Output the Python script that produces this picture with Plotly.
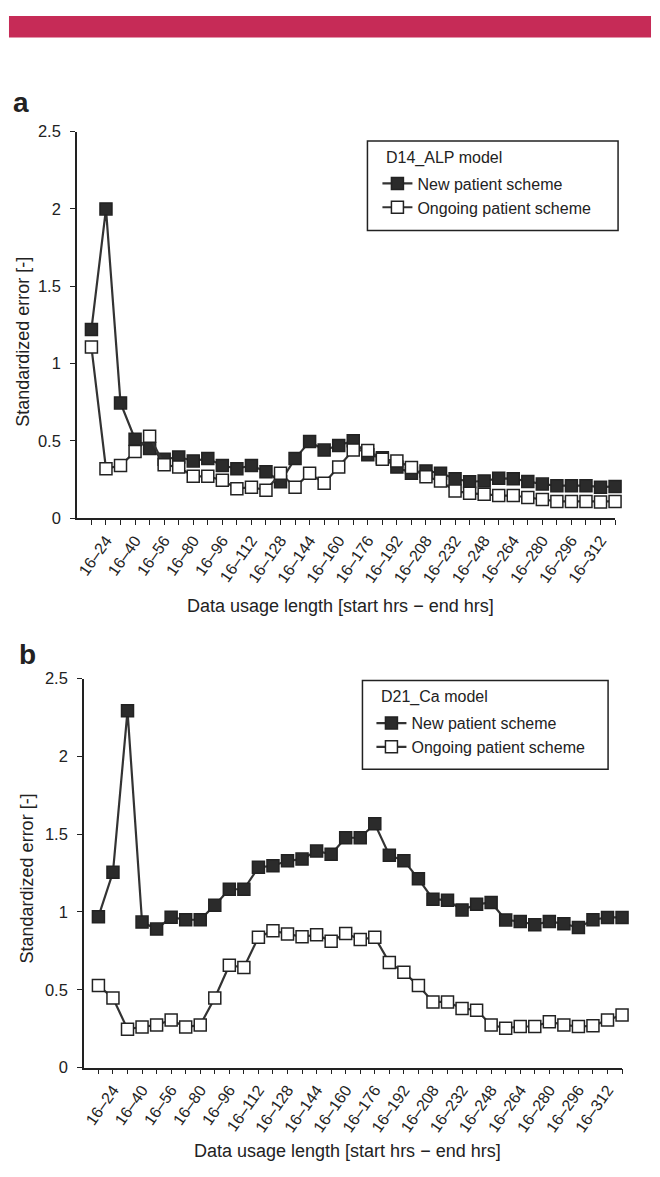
import plotly.graph_objects as go

# ---------------- data ----------------
categories = ["16–20", "16–24", "16–32", "16–40", "16–48", "16–56", "16–72", "16–80",
              "16–88", "16–96", "16–104", "16–112", "16–120", "16–128", "16–136", "16–144",
              "16–152", "16–160", "16–168", "16–176", "16–184", "16–192", "16–200", "16–208",
              "16–224", "16–232", "16–240", "16–248", "16–256", "16–264", "16–272", "16–280",
              "16–288", "16–296", "16–304", "16–312", "16–320"]
tick_labels = [c if i % 2 == 1 else "" for i, c in enumerate(categories)]

new_a = [1.22, 2.00, 0.745, 0.51, 0.45, 0.38, 0.395, 0.37, 0.385, 0.34,
         0.32, 0.34, 0.30, 0.235, 0.385, 0.495, 0.44, 0.47, 0.50, 0.41,
         0.39, 0.33, 0.29, 0.305, 0.29, 0.255, 0.235, 0.24, 0.257, 0.255,
         0.236, 0.22, 0.21, 0.21, 0.21, 0.20, 0.205]
ongoing_a = [1.106, 0.32, 0.34, 0.43, 0.53, 0.345, 0.33, 0.27, 0.27, 0.245,
             0.19, 0.20, 0.18, 0.29, 0.20, 0.29, 0.225, 0.33, 0.44, 0.437,
             0.38, 0.37, 0.327, 0.268, 0.24, 0.176, 0.16, 0.155, 0.146, 0.146,
             0.134, 0.12, 0.108, 0.108, 0.108, 0.104, 0.108]

new_b = [0.97, 1.255, 2.293, 0.935, 0.89, 0.966, 0.95, 0.95, 1.044, 1.146,
         1.146, 1.287, 1.297, 1.329, 1.34, 1.392, 1.371, 1.477, 1.477, 1.567,
         1.365, 1.33, 1.213, 1.082, 1.076, 1.013, 1.049, 1.061, 0.949, 0.939,
         0.918, 0.939, 0.924, 0.90, 0.95, 0.965, 0.965]
ongoing_b = [0.527, 0.447, 0.247, 0.26, 0.274, 0.306, 0.26, 0.274, 0.447, 0.658,
             0.643, 0.838, 0.88, 0.859, 0.84, 0.854, 0.812, 0.862, 0.823, 0.838,
             0.675, 0.612, 0.527, 0.422, 0.422, 0.38, 0.369, 0.274, 0.253, 0.264,
             0.264, 0.295, 0.274, 0.264, 0.268, 0.306, 0.338]

y_ticks = [0, 0.5, 1, 1.5, 2, 2.5]
y_tick_text = ["0", "0.5", "1", "1.5", "2", "2.5"]

series_names = ["New patient scheme", "Ongoing patient scheme"]
legend_titles = ["D14_ALP model", "D21_Ca model"]
panel_letters = ["a", "b"]
x_title = "Data usage length [start hrs − end hrs]"
y_title = "Standardized error [-]"

# ---------------- layout helpers ----------------
W, H = 660, 1177
FONT = "Liberation Sans, Arial, sans-serif"
INK = "#222222"


def px(x):
    return x / W


def py(y):
    return 1 - y / H


fig = go.Figure()

panels = [
    dict(new=new_a, ong=ongoing_a, xa="x", ya="y", legend="legend"),
    dict(new=new_b, ong=ongoing_b, xa="x2", ya="y2", legend="legend2"),
]

for p in panels:
    fig.add_trace(go.Scatter(
        x=categories, y=p["new"], xaxis=p["xa"], yaxis=p["ya"], legend=p["legend"],
        name=series_names[0], mode="lines+markers", cliponaxis=False,
        line=dict(color="#333333", width=2.2),
        marker=dict(symbol="square", size=12, color="#2b2b2b",
                    line=dict(color=INK, width=1.5)),
    ))
    fig.add_trace(go.Scatter(
        x=categories, y=p["ong"], xaxis=p["xa"], yaxis=p["ya"], legend=p["legend"],
        name=series_names[1], mode="lines+markers", cliponaxis=False,
        line=dict(color="#333333", width=2.2),
        marker=dict(symbol="square", size=12, color="white",
                    line=dict(color=INK, width=1.5)),
    ))

xcommon = dict(type="category", range=[-1, len(categories) - 1],
               tickmode="array", tickvals=categories, ticktext=tick_labels,
               tickangle=-55, ticks="outside", ticklen=5, tickwidth=1, tickcolor=INK,
               showline=True, linecolor=INK, linewidth=1.5, showgrid=False,
               zeroline=False, tickfont=dict(family=FONT, size=16, color=INK))
ycommon = dict(range=[0, 2.5], tickmode="array", tickvals=y_ticks, ticktext=y_tick_text,
               ticks="outside", ticklen=5, tickwidth=1, tickcolor=INK,
               ticklabelstandoff=6,
               showline=True, linecolor=INK, linewidth=1.5, showgrid=False,
               zeroline=False, tickfont=dict(family=FONT, size=16.5, color=INK))

legend_common = dict(bgcolor="rgba(0,0,0,0)", borderwidth=0,
                     font=dict(family=FONT, size=16, color=INK),
                     xanchor="left", yanchor="top", traceorder="normal")

fig.update_layout(
    width=W, height=H,
    margin=dict(l=0, r=0, t=0, b=0),
    paper_bgcolor="white", plot_bgcolor="white",
    font=dict(family=FONT, size=15, color=INK),
    xaxis=dict(xcommon, domain=[px(76), px(615)], anchor="y"),
    yaxis=dict(ycommon, domain=[py(517), py(124.5)], anchor="x"),
    xaxis2=dict(xcommon, domain=[px(83), px(622)], anchor="y2"),
    yaxis2=dict(ycommon, domain=[py(1075), py(680)], anchor="x2"),
    legend=dict(legend_common, x=px(377), y=py(160)),
    legend2=dict(legend_common, x=px(371), y=py(708)),
    showlegend=True,
    hovermode=False,
)

shapes = [
    # top colour band
    dict(type="rect", xref="paper", yref="paper", x0=px(8), x1=px(651), y0=py(7), y1=py(29),
         fillcolor="#c62b57", line=dict(width=0), layer="below"),
    # legend boxes
    dict(type="rect", xref="paper", yref="paper", x0=px(367), x1=px(618), y0=py(134), y1=py(225),
         fillcolor="rgba(0,0,0,0)", line=dict(color=INK, width=1.5)),
    dict(type="rect", xref="paper", yref="paper", x0=px(362), x1=px(608), y0=py(682), y1=py(772),
         fillcolor="rgba(0,0,0,0)", line=dict(color=INK, width=1.5)),
]
fig.update_layout(shapes=shapes)

ann = []
for letter, (lx, ly) in zip(panel_letters, [(10, 95), (16, 656)]):
    ann.append(dict(text=f"<b>{letter}</b>", x=px(lx), y=py(ly), xref="paper", yref="paper",
                    xanchor="left", yanchor="middle", showarrow=False,
                    font=dict(family=FONT, size=28, color=INK)))
for title, (tx, ty) in zip(legend_titles, [(384, 151), (379, 699)]):
    ann.append(dict(text=title, x=px(tx), y=py(ty), xref="paper", yref="paper",
                    xanchor="left", yanchor="middle", showarrow=False,
                    font=dict(family=FONT, size=16, color=INK)))
for (tx, ty) in [(340, 606), (347, 1160)]:
    ann.append(dict(text=x_title, x=px(tx), y=py(ty), xref="paper", yref="paper",
                    xanchor="center", yanchor="middle", showarrow=False,
                    font=dict(family=FONT, size=18, color=INK)))
for (tx, ty) in [(22, 338), (27, 883)]:
    ann.append(dict(text=y_title, x=px(tx), y=py(ty), xref="paper", yref="paper",
                    xanchor="center", yanchor="middle", showarrow=False, textangle=-90,
                    font=dict(family=FONT, size=18, color=INK)))
fig.update_layout(annotations=ann)

fig.write_html("out.html", config={"displayModeBar": False},
               post_script="document.body.style.margin='0';")
